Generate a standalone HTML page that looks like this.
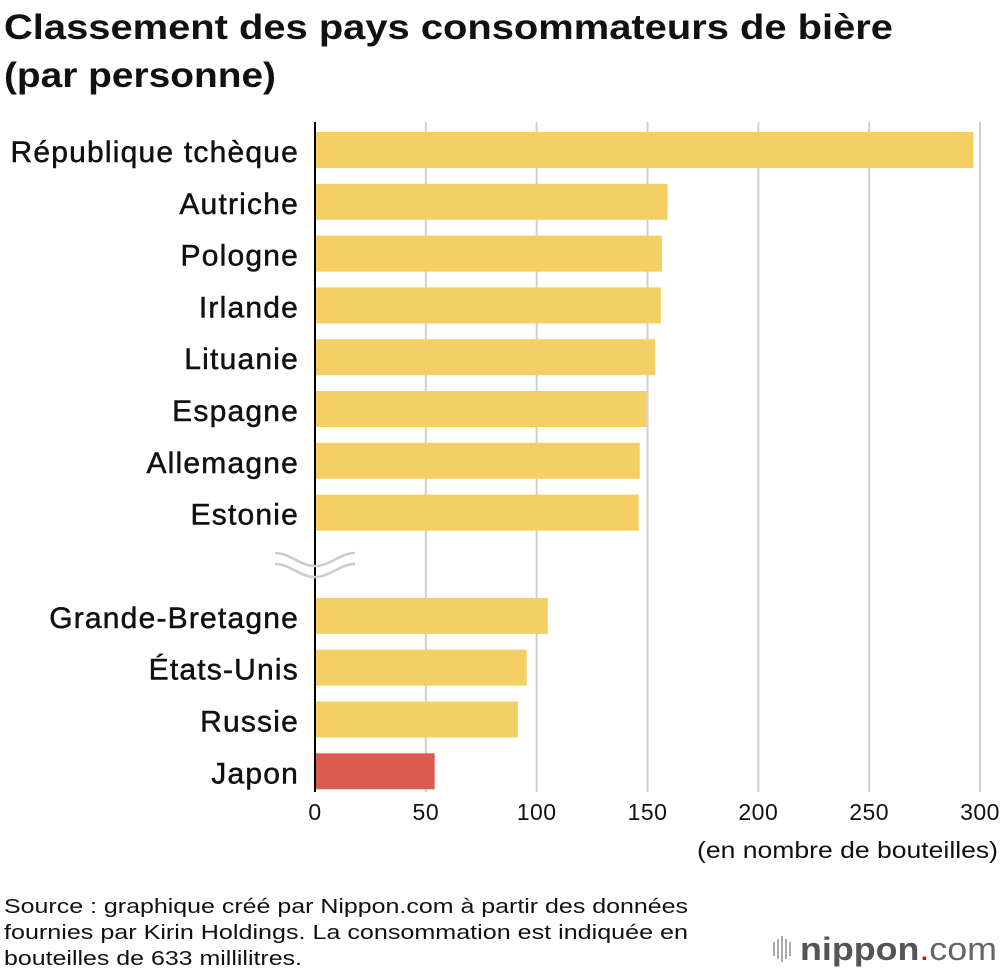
<!DOCTYPE html>
<html><head><meta charset="utf-8"><style>
html,body{margin:0;padding:0;background:#fff;}
body{width:1000px;height:974px;overflow:hidden;font-family:"Liberation Sans",sans-serif;}
</style></head><body>
<svg width="1000" height="974" viewBox="0 0 1000 974" xmlns="http://www.w3.org/2000/svg" font-family="Liberation Sans, sans-serif">
<text x="4" y="39" font-size="35" font-weight="bold" fill="#111" textLength="889" lengthAdjust="spacingAndGlyphs">Classement des pays consommateurs de bière</text>
<text x="4" y="87" font-size="35" font-weight="bold" fill="#111" textLength="272" lengthAdjust="spacingAndGlyphs">(par personne)</text>
<g id="grid"></g>
<g id="bars"></g>
<g id="labels"></g>
<g id="ticks"></g>
<line x1="315" y1="122" x2="315" y2="792" stroke="#000" stroke-width="2"/>
<g fill="none" stroke="#ccc" stroke-width="2.5">
<path d="M275,553 C290,553 300,566 315,566 C330,566 340,553 355,553"/>
<path d="M275,564 C290,564 300,577 315,577 C330,577 340,564 355,564"/>
</g>
<text x="998" y="858" font-size="23" text-anchor="end" fill="#111" textLength="301" lengthAdjust="spacingAndGlyphs">(en nombre de bouteilles)</text>
<text x="4" y="913" font-size="20" fill="#111" textLength="684" lengthAdjust="spacingAndGlyphs">Source : graphique créé par Nippon.com à partir des données</text>
<text x="4" y="939" font-size="20" fill="#111" textLength="684" lengthAdjust="spacingAndGlyphs">fournies par Kirin Holdings. La consommation est indiquée en</text>
<text x="4" y="965" font-size="20" fill="#111" textLength="298" lengthAdjust="spacingAndGlyphs">bouteilles de 633 millilitres.</text>
<g>
<g fill="#aaa"><rect x="773" y="942" width="2" height="14"/><rect x="777" y="939" width="2" height="20"/><rect x="781" y="936" width="2" height="26"/><rect x="785" y="939" width="2" height="20"/><rect x="789" y="942" width="2" height="14"/></g>
<text x="800" y="960" font-size="32" fill="#555" textLength="197" lengthAdjust="spacingAndGlyphs"><tspan font-weight="bold">nippon</tspan><tspan fill="#e00">.</tspan><tspan fill="#666">com</tspan></text>
</g>
</svg>
<script>
const categories=["République tchèque","Autriche","Pologne","Irlande","Lituanie","Espagne","Allemagne","Estonie","Grande-Bretagne","États-Unis","Russie","Japon"];
const values=[297,159,156.5,156,153.5,149.5,146.5,146,105,95.5,91.5,54];
const tickValues=[0,50,100,150,200,250,300];
const tickLabels=["0","50","100","150","200","250","300"];
const NS="http://www.w3.org/2000/svg";
const x=v=>315+v*(665/300);
const rowY=i=>150+i*51.8+(i>=8?51.5:0);
function mk(t,a,p){const e=document.createElementNS(NS,t);for(const k in a)e.setAttribute(k,a[k]);p.appendChild(e);return e;}
const grid=document.getElementById('grid'),bars=document.getElementById('bars'),labels=document.getElementById('labels'),ticks=document.getElementById('ticks');
tickValues.forEach((v,i)=>{
 if(v>0){const l=mk('line',{x1:x(v),x2:x(v),y1:122,y2:792,stroke:'#d0d0d0','stroke-width':2},grid);
 
 }
 const t=mk('text',{x:x(v),y:820,'font-size':23,'text-anchor':'middle',fill:'#111','letter-spacing':0.5},ticks);
 t.textContent=tickLabels[i];
 
 
});
categories.forEach((c,i)=>{
 const cy=rowY(i);
 const r=mk('rect',{x:316,y:cy-18,width:x(values[i])-316,height:36,fill:c==="Japon"?'#d95c4e':'#f4cf63'},bars);
 
 
 const t=mk('text',{x:299,y:cy+12,'font-size':30,'text-anchor':'end',fill:'#111','letter-spacing':1.2,stroke:'#111','stroke-width':0.5},labels);
 t.textContent=c;
 
 
});
</script>
</body></html>
